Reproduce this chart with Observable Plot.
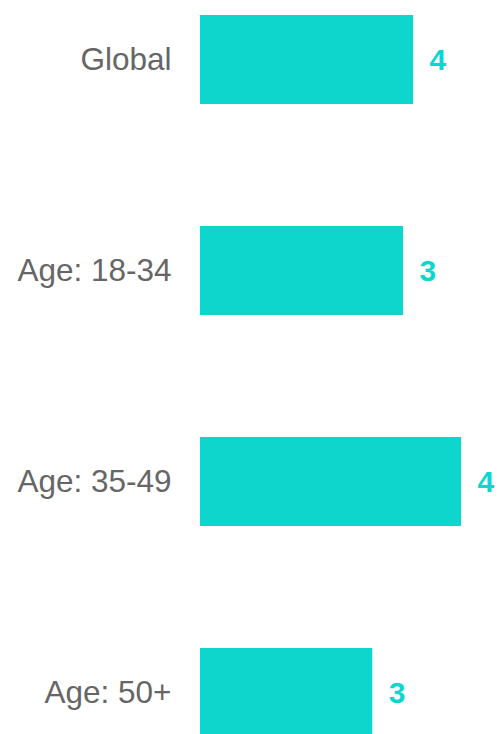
<!DOCTYPE html>
<html>
<head>
<meta charset="utf-8">
<script src="https://cdn.jsdelivr.net/npm/d3@7"></script>
<script src="https://cdn.jsdelivr.net/npm/@observablehq/plot@0.6"></script>
<style>
  html, body { margin: 0; padding: 0; background: #fff; }
  #chart svg { display: block; }
  #chart svg text { font-family: "Liberation Sans", Arial, sans-serif; }
</style>
</head>
<body>
<div id="chart"></div>
<script>
const categories = ["Global", "Age: 18-34", "Age: 35-49", "Age: 50+"];
const values = [3.6, 3.43, 4.41, 2.91];
const valueLabels = ["4", "3", "4", "3"];

const data = categories.map((c, i) => ({category: c, value: values[i], label: valueLabels[i]}));
const teal = "#0fd6cc";
const font = "Liberation Sans, Arial, sans-serif";

const chart = Plot.plot({
  width: 498,
  height: 734,
  marginLeft: 200,
  marginRight: 2,
  marginTop: 0,
  marginBottom: 0,
  style: {fontFamily: font, background: "#fff"},
  x: {domain: [0, 5], axis: null},
  y: {domain: categories, range: [14, 738.6], paddingInner: 0.577, paddingOuter: 0, label: null},
  marks: [
    Plot.barX(data, {y: "category", x: "value", fill: teal}),
    Plot.text(data, {y: "category", x: "value", text: "label", textAnchor: "start", dx: 16, fill: teal, fontSize: 30, fontWeight: "bold", fontFamily: font}),
    Plot.axisY({tickSize: 0, tickPadding: 29, fontSize: 31.5, color: "#666", label: null, fontFamily: font})
  ]
});
document.getElementById("chart").appendChild(chart);
</script>
</body>
</html>
